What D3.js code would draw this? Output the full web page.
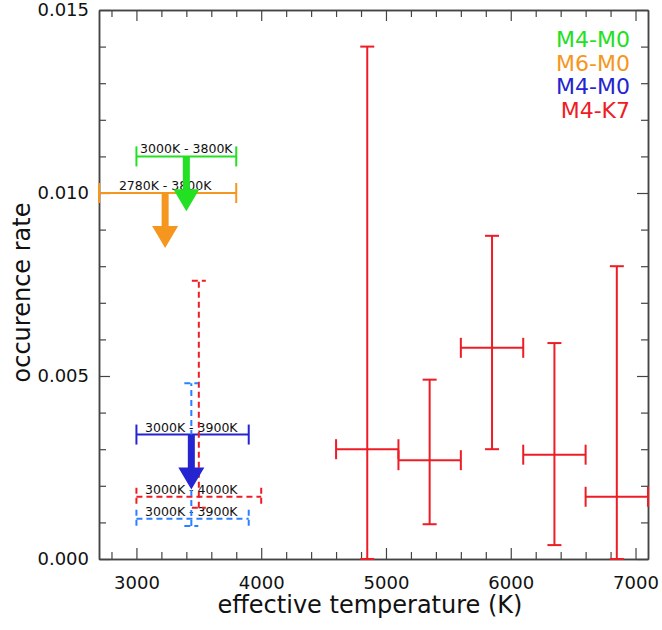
<!DOCTYPE html>
<html><head><meta charset="utf-8">
<script src="https://cdn.jsdelivr.net/npm/d3@7"></script>
<style>
body{margin:0;background:#fff;}
svg{display:block;font-family:"DejaVu Sans",sans-serif;}
</style></head>
<body>
<svg id="chart" width="662" height="630"></svg>
<script>
// ---- data ----
// M4-K7 (red, solid) bins
const binT    = [4850, 5350, 5850, 6350, 6850];
const binTlo  = [4600, 5100, 5600, 6100, 6600];
const binThi  = [5100, 5600, 6100, 6600, 7100];
const binRate = [0.0030, 0.0027, 0.00577, 0.00285, 0.0017];
const binLo   = [0.0, 0.00095, 0.0030, 0.00038, 0.0];
const binHi   = [0.0140, 0.0049, 0.00883, 0.0059, 0.0080];

// upper limits (arrows)
const limNames = ["M4-M0 green", "M6-M0", "M4-M0 blue"];
const limT     = [3400, 3230, 3440];
const limTlo   = [3000, 2700, 3000];
const limThi   = [3800, 3800, 3900];
const limRate  = [0.0110, 0.0100, 0.0034];
const limTip   = [0.0095, 0.0085, 0.0019];
const limLabel = ["3000K - 3800K", "2780K - 3800K", "3000K - 3900K"];
const limColor = ["#22e022", "#f5961e", "#2424d0"];

// dashed measurements
const dashT     = [3500, 3440];
const dashTlo   = [3000, 3000];
const dashThi   = [4000, 3900];
const dashRate  = [0.0017, 0.0011];
const dashLo    = [0.0014, 0.0009];
const dashHi    = [0.0076, 0.0048];
const dashLabel = ["3000K - 4000K", "3000K - 3900K"];
const dashLabelT= [3440, 3440];
const dashColor = ["#ee1c24", "#2a80ff"];

const legendText  = ["M4-M0", "M6-M0", "M4-M0", "M4-K7"];
const legendColor = ["#22e022", "#f5961e", "#2424d0", "#ee1c24"];

const xMajor = [3000, 4000, 5000, 6000, 7000];
const yMajor = [0.000, 0.005, 0.010, 0.015];

// ---- layout ----
const svg = d3.select("#chart");
const x = d3.scaleLinear().domain([2700, 7100]).range([99, 648]);
const y = d3.scaleLinear().domain([0, 0.015]).range([559, 10]);
const red = "#ee1c24";
const axisColor = "#444";

const xMinor = d3.range(2800, 7100, 200).filter(v => v % 1000 !== 0);
const yMinor = d3.range(1, 15).map(i => i / 1000).filter(v => Math.abs(v*1000 % 5) > 1e-6);

function styleAxis(g){
  g.selectAll("path.domain").attr("stroke", axisColor).attr("stroke-width", 1.5);
  g.selectAll(".tick line").attr("stroke", axisColor).attr("stroke-width", 1.2);
  g.selectAll(".tick text").attr("fill", "#111").style("font-size", "18px")
   .style("font-family", "'DejaVu Sans', sans-serif");
}

// bottom
svg.append("g").attr("transform", `translate(0,${y(0)})`)
  .call(d3.axisBottom(x).tickValues(xMinor).tickSizeInner(-7).tickSizeOuter(0).tickFormat(""))
  .call(styleAxis);
svg.append("g").attr("transform", `translate(0,${y(0)})`)
  .call(d3.axisBottom(x).tickValues(xMajor).tickSizeInner(-11).tickSizeOuter(0).tickPadding(17).tickFormat(d3.format("d")))
  .call(styleAxis);
// top
svg.append("g").attr("transform", `translate(0,${y(0.015)})`)
  .call(d3.axisTop(x).tickValues(xMinor).tickSizeInner(-7).tickSizeOuter(0).tickFormat(""))
  .call(styleAxis);
svg.append("g").attr("transform", `translate(0,${y(0.015)})`)
  .call(d3.axisTop(x).tickValues(xMajor).tickSizeInner(-11).tickSizeOuter(0).tickFormat(""))
  .call(styleAxis);
// left
svg.append("g").attr("transform", `translate(${x(2700)},0)`)
  .call(d3.axisLeft(y).tickValues(yMinor).tickSizeInner(-7).tickSizeOuter(0).tickFormat(""))
  .call(styleAxis);
svg.append("g").attr("transform", `translate(${x(2700)},0)`)
  .call(d3.axisLeft(y).tickValues(yMajor).tickSizeInner(-11).tickSizeOuter(0).tickPadding(10).tickFormat(d3.format(".3f")))
  .call(styleAxis);
// right
svg.append("g").attr("transform", `translate(${x(7100)},0)`)
  .call(d3.axisRight(y).tickValues(yMinor).tickSizeInner(-7).tickSizeOuter(0).tickFormat(""))
  .call(styleAxis);
svg.append("g").attr("transform", `translate(${x(7100)},0)`)
  .call(d3.axisRight(y).tickValues(yMajor).tickSizeInner(-11).tickSizeOuter(0).tickFormat(""))
  .call(styleAxis);

// axis titles
svg.append("text").attr("x", 370).attr("y", 613).attr("text-anchor", "middle")
  .style("font-size", "24px").attr("fill", "#111").text("effective temperature (K)");
svg.append("text").attr("transform", `translate(30,${(y(0)+y(0.015))/2 + 8}) rotate(-90)`)
  .attr("text-anchor", "middle").style("font-size", "24px").attr("fill", "#111").text("occurence rate");

// helper: error cross
function errorCross(g, T, Tlo, Thi, r, lo, hi, color, dash, hCap, vCap){
  const s = g.append("g").attr("stroke", color).attr("stroke-width", 2).attr("fill", "none");
  if (dash) s.attr("stroke-dasharray", dash);
  s.append("line").attr("x1", x(Tlo)).attr("x2", x(Thi)).attr("y1", y(r)).attr("y2", y(r));
  s.append("line").attr("x1", x(Tlo)).attr("x2", x(Tlo)).attr("y1", y(r)-hCap).attr("y2", y(r)+hCap).attr("stroke-dasharray", null);
  s.append("line").attr("x1", x(Thi)).attr("x2", x(Thi)).attr("y1", y(r)-hCap).attr("y2", y(r)+hCap).attr("stroke-dasharray", null);
  if (lo !== null){
    s.append("line").attr("x1", x(T)).attr("x2", x(T)).attr("y1", y(lo)).attr("y2", y(hi));
    s.append("line").attr("x1", x(T)-vCap).attr("x2", x(T)+vCap).attr("y1", y(hi)).attr("y2", y(hi)).attr("stroke-dasharray", null);
    s.append("line").attr("x1", x(T)-vCap).attr("x2", x(T)+vCap).attr("y1", y(lo)).attr("y2", y(lo)).attr("stroke-dasharray", null);
  }
}

const plot = svg.append("g");

// red solid bins
binT.forEach((t, i) => {
  errorCross(plot, t, binTlo[i], binThi[i], binRate[i], binLo[i], binHi[i], red, null, 10, 7);
});

// upper limits: horizontal bar + arrow
limT.forEach((t, i) => {
  errorCross(plot, t, limTlo[i], limThi[i], limRate[i], null, null, limColor[i], null, 10, 7);
});
// labels
limT.forEach((t, i) => {
  plot.append("text").attr("x", x(t)).attr("y", y(limRate[i]) - 3).attr("text-anchor", "middle")
    .style("font-size", "12.5px").attr("fill", "#111").text(limLabel[i]);
});
// dashed
dashT.forEach((t, i) => {
  plot.append("text").attr("x", x(dashLabelT[i])).attr("y", y(dashRate[i]) - 3).attr("text-anchor", "middle")
    .style("font-size", "12.5px").attr("fill", "#111").text(dashLabel[i]);
});
dashT.forEach((t, i) => {
  errorCross(plot, t, dashTlo[i], dashThi[i], dashRate[i], dashLo[i], dashHi[i], dashColor[i], "6,4", 9, 7);
});
// arrows
limT.forEach((t, i) => {
  const cx = x(t), y0 = y(limRate[i]), y1 = y(limTip[i]);
  const hl = 22, hw = 13, sw = 3.5;
  const p = d3.path();
  p.moveTo(cx - sw, y0); p.lineTo(cx + sw, y0); p.lineTo(cx + sw, y1 - hl);
  p.lineTo(cx + hw, y1 - hl); p.lineTo(cx, y1); p.lineTo(cx - hw, y1 - hl);
  p.lineTo(cx - sw, y1 - hl); p.closePath();
  plot.append("path").attr("d", p.toString()).attr("fill", limColor[i]);
});

// legend
legendText.forEach((t, i) => {
  svg.append("text").attr("x", 630).attr("y", 47 + i * 23.5).attr("text-anchor", "end")
    .style("font-size", "22px").attr("fill", legendColor[i]).text(t);
});
</script>
</body></html>
